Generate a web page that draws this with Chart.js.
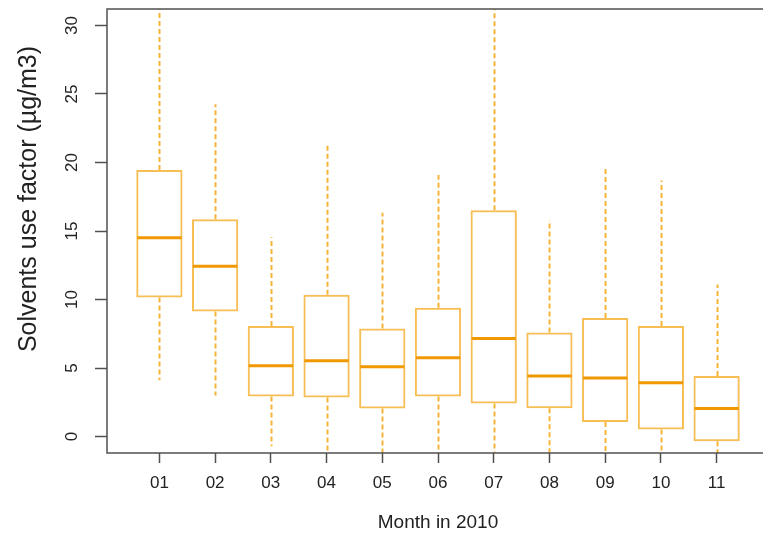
<!DOCTYPE html>
<html>
<head>
<meta charset="utf-8">
<script src="https://cdn.jsdelivr.net/npm/chart.js@4"></script>
<style>
  html, body { margin: 0; padding: 0; background: #fff; overflow: hidden; }
  #wrap { position: absolute; left: 0; top: 0; width: 770px; height: 536px; }
</style>
</head>
<body>
<div id="wrap"><canvas id="box-chart" width="770" height="536"></canvas></div>
<script>
// monthly distribution of the solvents use factor (µg/m3), 2010
const months    = ['01', '02', '03', '04', '05', '06', '07', '08', '09', '10', '11'];
const lowWhisk  = [4.1, 3.0, -0.7, -1.5, -1.5, -1.5, -1.5, -1.5, -1.5, -1.5, -1.5];
const q1        = [10.15, 9.13, 2.92, 2.85, 2.05, 2.92, 2.41, 2.07, 1.07, 0.51, -0.34];
const medians   = [14.5, 12.42, 5.16, 5.53, 5.09, 5.75, 7.16, 4.41, 4.27, 3.92, 2.05];
const q3        = [19.46, 15.85, 8.06, 10.35, 7.89, 9.4, 16.51, 7.6, 8.65, 8.06, 4.41];
const highWhisk = [33, 24.25, 14.54, 21.36, 16.34, 19.09, 33, 15.78, 19.63, 18.68, 11.1];
const yTicks    = [0, 5, 10, 15, 20, 25, 30];

const FRAME = '#505050';
const BOX_EDGE = '#F7BE55';
const WHISKER = '#F6B43A';
const MEDIAN = '#F09800';

// whiskers, medians, plot frame and the y title (R-style boxplot bits)
const boxExtras = {
  id: 'boxExtras',
  afterDatasetsDraw(chart) {
    const { ctx, chartArea: area, scales: { x, y } } = chart;
    const meta = chart.getDatasetMeta(0);
    ctx.save();
    ctx.beginPath();
    ctx.rect(area.left, area.top, area.right - area.left, area.bottom - area.top);
    ctx.clip();

    ctx.strokeStyle = WHISKER;
    ctx.lineWidth = 2;
    ctx.setLineDash([5, 3]);
    months.forEach((m, i) => {
      const px = Math.round(x.getPixelForValue(i + 1)) + 0.5;
      ctx.beginPath();
      ctx.moveTo(px, y.getPixelForValue(q3[i]));
      ctx.lineTo(px, y.getPixelForValue(highWhisk[i]));
      ctx.moveTo(px, y.getPixelForValue(q1[i]));
      ctx.lineTo(px, y.getPixelForValue(lowWhisk[i]));
      ctx.stroke();
    });

    ctx.setLineDash([]);
    ctx.strokeStyle = MEDIAN;
    ctx.lineWidth = 3;
    meta.data.forEach((bar, i) => {
      const half = bar.width / 2 - 1;
      const py = y.getPixelForValue(medians[i]);
      ctx.beginPath();
      ctx.moveTo(bar.x - half, py);
      ctx.lineTo(bar.x + half, py);
      ctx.stroke();
    });
    ctx.restore();

    ctx.save();
    ctx.strokeStyle = FRAME;
    ctx.lineWidth = 1.5;
    ctx.strokeRect(area.left, area.top, area.right - area.left, area.bottom - area.top);

    ctx.fillStyle = '#222';
    ctx.font = '25px "Liberation Sans", Arial, sans-serif';
    ctx.textAlign = 'center';
    ctx.textBaseline = 'middle';
    ctx.translate(29, 199);
    ctx.rotate(-Math.PI / 2);
    ctx.fillText('Solvents use factor (µg/m3)', 0, 0);
    ctx.restore();
  }
};

const ctx = document.getElementById('box-chart').getContext('2d');
new Chart(ctx, {
  type: 'bar',
  data: {
    datasets: [{
      data: months.map((m, i) => ({ x: i + 1, y: [q1[i], q3[i]] })),
      backgroundColor: 'rgba(0,0,0,0)',
      borderColor: BOX_EDGE,
      borderWidth: 2,
      borderSkipped: false,
      barPercentage: 0.83,
      categoryPercentage: 1,
    }],
  },
  options: {
    responsive: false,
    animation: false,
    layout: { padding: { top: 9, right: 1, left: 0, bottom: 0 } },
    plugins: { legend: { display: false }, tooltip: { enabled: false } },
    scales: {
      x: {
        type: 'linear',
        offset: false,
        min: 0.06,
        max: 11.94,
        afterBuildTicks: (scale) => { scale.ticks = months.map((m, i) => ({ value: i + 1 })); },
        afterFit: (scale) => {
          scale.height = 536 - 453;
          scale.paddingLeft = 0;
          scale.paddingRight = 0;
        },
        ticks: {
          callback: (v) => months[v - 1],
          color: '#222',
          font: { family: '"Liberation Sans", Arial, sans-serif', size: 17 },
          padding: 10,
          maxRotation: 0,
          autoSkip: false,
        },
        grid: { offset: false, drawOnChartArea: false, tickLength: 10, color: FRAME, tickWidth: 1.5 },
        border: { display: false },
        title: {
          display: true,
          text: 'Month in 2010',
          color: '#222',
          font: { family: '"Liberation Sans", Arial, sans-serif', size: 19 },
          padding: { top: 0, bottom: 2 },
        },
      },
      y: {
        min: -1.2,
        max: 31.2,
        afterBuildTicks: (scale) => { scale.ticks = yTicks.map(v => ({ value: v })); },
        afterFit: (scale) => {
          scale.width = 107;
          scale.paddingTop = 0;
          scale.paddingBottom = 0;
        },
        ticks: {
          color: '#222',
          font: { family: '"Liberation Sans", Arial, sans-serif', size: 17 },
          minRotation: 90,
          maxRotation: 90,
          crossAlign: 'center',
          padding: 13,
        },
        grid: { drawOnChartArea: false, tickLength: 12, color: FRAME, tickWidth: 1.5 },
        border: { display: false },
      },
    },
  },
  plugins: [boxExtras],
});
</script>
</body>
</html>
